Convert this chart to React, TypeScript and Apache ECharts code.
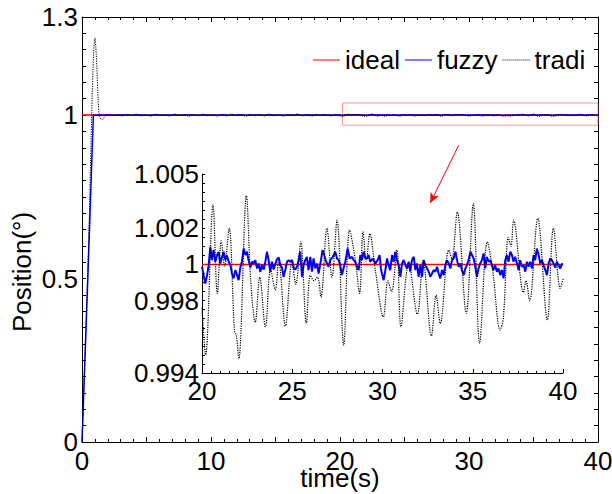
import React, { useEffect, useRef } from "react";
import * as echarts from "echarts";

const FONT = "'Liberation Sans', Arial, Helvetica, sans-serif";

// ---- text / tick labels ----
const seriesNames = ["ideal", "fuzzy", "tradi"];
const mainXTickLabels = [0, 10, 20, 30, 40];
const mainYTickLabels = [0, 0.5, 1, 1.3];
const insetXTickLabels = [20, 25, 30, 35, 40];
const insetYTickLabels = [0.994, 0.998, 1, 1.002, 1.005];
const xTitle = "time(s)";
const yTitle = "Position(°)";

// ---- data ----
const idealLevel = 1;
// fuzzy controller: rise (t, value)
const fuzzyRise: [number, number][] = [
  [0, 0],
  [0.45, 0.5],
  [0.88, 0.9995],
];
// fuzzy 1..20 s : (t, deviation from 1 in 0.001)
const fuzzyMidDev: [number, number][] = [
  [1.0, 0.4], [1.4, -0.3], [1.9, 0.5], [2.5, -0.4], [3.1, 0.2], [3.8, -0.6], [4.4, 0.3], [5.1, -0.2],
  [5.7, 0.6], [6.4, -0.5], [7.0, 0.1], [7.7, -0.4], [8.3, 0.5], [9.0, -0.3], [9.6, 0.2], [10.3, -0.6],
  [10.9, 0.4], [11.6, -0.2], [12.2, 0.6], [12.9, -0.5], [13.5, 0.3], [14.2, -0.3], [14.8, 0.5], [15.5, -0.4],
  [16.1, 0.2], [16.8, -0.6], [17.4, 0.4], [18.1, -0.2], [18.7, 0.5], [19.4, -0.4],
];
// fuzzy 20..40 s : (t, deviation from 1 in 0.001)
const fuzzyZoomDev: [number, number][] = [
  [20.0, -0.13], [20.09, -0.6], [20.18, -1.05], [20.28, -0.6], [20.37, -0.04], [20.46, 0.98], [20.55, 0.24],
  [20.64, 0.8], [20.74, 0.15], [20.83, 0.5], [20.92, 0.7], [21.01, 0.05], [21.11, 0.42], [21.2, 0.7],
  [21.29, 0.24], [21.38, 0.5], [21.48, 0.15], [21.57, -0.04], [21.66, -0.5], [21.75, -0.77], [21.85, -0.31],
  [21.94, -0.59], [22.03, -0.87], [22.12, -0.17], [22.21, 0.15], [22.31, 0.88], [22.4, 0.52], [22.49, 0.7],
  [22.58, 0.24], [22.68, -0.17], [22.77, 0.15], [22.86, 0.05], [22.95, 0.24], [23.05, -0.22], [23.14, 0.05],
  [23.23, -0.4], [23.32, -0.04], [23.42, -0.28], [23.51, 0.15], [23.6, 0.7], [23.69, 0.24], [23.78, -0.4],
  [23.88, 0.15], [23.97, -0.28], [24.06, 0.02], [24.15, 0.28], [24.25, 0.39], [24.34, -0.04], [24.43, -0.17],
  [24.52, -0.68], [24.62, -0.28], [24.71, 0.15], [24.8, 0.24], [24.89, 0.15], [24.99, 0.24], [25.08, -0.17],
  [25.17, -0.28], [25.26, -0.13], [25.35, 0.24], [25.44, 0.7], [25.54, -0.68], [25.63, -0.04], [25.72, 0.24],
  [25.81, 0.42], [25.9, -0.31], [26.0, 0.42], [26.09, -0.4], [26.18, 0.33], [26.27, -0.22], [26.37, 0.05],
  [26.46, -0.5], [26.59, 0.24], [26.68, 0.8], [26.77, 0.52], [26.88, 0.15], [27.01, -0.13], [27.11, 0.24],
  [27.25, 0.42], [27.38, 0.7], [27.48, 0.33], [27.57, 0.24], [27.66, -0.04], [27.75, -0.59], [27.84, -0.22],
  [27.94, 0.15], [28.07, 0.88], [28.18, 0.33], [28.31, 0.42], [28.4, 0.24], [28.49, 0.15], [28.58, -0.13],
  [28.68, -0.31], [28.77, 0.52], [28.86, 0.24], [28.95, 0.7], [29.05, 0.33], [29.14, 0.33], [29.23, 0.52],
  [29.32, 0.15], [29.47, 0.33], [29.6, 0.05], [29.73, 0.24], [29.84, 0.52], [29.91, -0.22], [29.97, -0.5],
  [30.06, -0.87], [30.16, -0.31], [30.25, 0.33], [30.34, -0.04], [30.43, -0.31], [30.53, 0.52], [30.62, 0.15],
  [30.71, 0.7], [30.8, 0.24], [30.9, -0.04], [30.99, -0.68], [31.08, 0.05], [31.17, 0.24], [31.27, -0.04],
  [31.36, -0.22], [31.45, 0.15], [31.54, -0.4], [31.63, 0.24], [31.73, 0.42], [31.82, -0.31], [31.91, 0.05],
  [32.0, -0.68], [32.1, -0.04], [32.19, -0.68], [32.28, 0.24], [32.37, -0.04], [32.47, -0.22], [32.56, -0.4],
  [32.65, -0.68], [32.74, -0.5], [32.83, -0.31], [32.93, -0.4], [33.02, -0.13], [33.11, -0.5], [33.2, -0.77],
  [33.3, -0.31], [33.39, -0.59], [33.48, -0.04], [33.57, 0.24], [33.67, 0.05], [33.76, -0.22], [33.85, 0.24],
  [33.94, 0.33], [34.04, 0.7], [34.13, 0.24], [34.22, -0.13], [34.31, 0.05], [34.4, -0.31], [34.5, -0.59],
  [34.59, -0.22], [34.68, -0.04], [34.77, 0.24], [34.87, 0.7], [34.96, 0.52], [35.05, 0.33], [35.14, -0.13],
  [35.23, -0.68], [35.32, -0.22], [35.41, 0.05], [35.51, 0.24], [35.6, 0.61], [35.69, -0.22], [35.78, 0.42],
  [35.88, 0.15], [35.97, 0.24], [36.06, -0.04], [36.15, -0.31], [36.24, -0.04], [36.34, -0.4], [36.43, -0.22],
  [36.52, -0.59], [36.61, -0.31], [36.71, -0.77], [36.8, 0.24], [36.89, 0.52], [36.98, 0.15], [37.08, 0.7],
  [37.17, 0.52], [37.26, 0.15], [37.35, 0.42], [37.45, 0.05], [37.54, -0.31], [37.63, 0.24], [37.72, -0.13],
  [37.82, -0.04], [37.91, -0.4], [38.0, 0.15], [38.09, -0.13], [38.18, 0.15], [38.28, -0.22], [38.37, 0.52],
  [38.46, 0.24], [38.55, 0.88], [38.65, 0.52], [38.74, 0.05], [38.83, 0.24], [38.92, -0.04], [39.02, -0.31],
  [39.11, -0.59], [39.2, 0.05], [39.29, 0.33], [39.38, 0.24], [39.48, 0.05], [39.57, -0.17], [39.66, 0.15],
  [39.75, -0.04], [39.85, -0.22], [39.94, 0.02], [40.0, 0.05],
];
// traditional controller: rise and overshoot (t, value)
const tradiRise: [number, number][] = [
  [0, 0], [0.5, 0.59], [0.75, 1.0], [0.9, 1.19], [1.0, 1.236], [1.1, 1.19], [1.25, 1.05], [1.35, 1.0],
  [1.55, 0.985], [1.8, 0.997],
];
// tradi 2..20 s : (t, deviation from 1 in 0.001)
const tradiMidDev: [number, number][] = [
  [2.1, 2.5], [2.4, -2.0], [2.8, 1.5], [3.1, -3.0], [3.5, 2.2], [3.9, -1.2], [4.2, 3.0], [4.6, -2.5],
  [5.0, 1.0], [5.3, -3.5], [5.7, 2.8], [6.1, -1.8], [6.4, 1.6], [6.8, -2.9], [7.2, 3.3], [7.5, -1.0],
  [7.9, 2.0], [8.3, -3.8], [8.6, 1.4], [9.0, -2.2], [9.4, 2.9], [9.7, -1.5], [10.1, 1.1], [10.5, -3.2],
  [10.8, 2.4], [11.2, -2.6], [11.6, 3.5], [11.9, -1.3], [12.3, 1.8], [12.7, -4.0], [13.0, 2.6], [13.4, -1.9],
  [13.8, 1.2], [14.1, -2.8], [14.5, 3.1], [14.9, -2.1], [15.2, 1.7], [15.6, -3.4], [16.0, 2.3], [16.3, -1.4],
  [16.7, 3.6], [17.1, -2.7], [17.4, 1.3], [17.8, -3.1], [18.2, 2.7], [18.5, -1.6], [18.9, 2.0], [19.3, -3.3],
  [19.6, 1.5],
];
// tradi 20..40 s : (t, deviation from 1 in 0.001)
const tradiZoomDev: [number, number][] = [
  [20.0, -2.4], [20.2, -5.0], [20.61, 3.3], [20.85, -1.6], [21.07, 1.3], [21.25, -0.1], [21.5, 2.0],
  [21.8, -3.7], [21.9, -3.9], [22.04, -5.2], [22.46, 3.8], [22.7, -0.9], [22.95, -3.2], [23.2, -0.7],
  [23.51, -3.45], [23.8, -0.3], [24.06, -1.4], [24.25, 0.2], [24.62, -3.4], [24.98, 0.1], [25.2, -1.1],
  [25.47, 1.25], [25.78, -3.26], [26.0, -0.6], [26.2, -0.9], [26.4, -0.7], [26.59, -1.8], [26.92, 2.0],
  [27.2, -0.7], [27.48, 2.45], [27.85, -4.46], [28.18, 1.9], [28.5, 0.2], [28.73, -1.6], [28.92, 1.8],
  [29.1, 0.2], [29.3, 1.7], [29.6, -0.3], [30.05, -2.9], [30.3, -0.9], [30.5, -1.5], [30.8, 0.8],
  [31.02, -3.44], [31.45, 0.05], [31.93, -2.75], [32.25, 0.2], [32.71, -3.95], [32.97, -1.7], [33.2, -3.26],
  [33.67, 0.8], [33.85, 0.3], [34.14, 2.9], [34.64, -2.7], [35.03, 3.37], [35.38, -4.36], [35.81, 1.25],
  [36.1, -0.3], [36.52, -3.63], [36.7, -2.9], [36.97, 1.5], [37.12, 1.0], [37.26, 2.45], [37.81, -1.55],
  [37.95, -0.9], [38.15, -2.0], [38.6, 2.55], [39.13, -3.07], [39.47, 2.0], [39.85, -1.33], [40.0, -0.8],
];
// zoomed region marker and arrow (data coordinates of main axes)
const zoomBox = { x0: 20.2, x1: 40, y0: 0.969, y1: 1.037 };
const arrowFrom: [number, number] = [29.2, 0.908];
const arrowTo: [number, number] = [27.0, 0.731];

const fromDev = (d: [number, number][]) => d.map(([t, m]) => [t, idealLevel + m / 1000]);
const near = (v: number, list: number[]) => list.some((l) => Math.abs(v - l) < 1e-7);

const RED = "#ff0000";
const BLUE = "#0000ff";
const BLACK = "#000000";

// legend icons: a solid bar and a dotted bar (drawn at 27 x 1.5)
const SOLID_ICON = "path://M0,0h27v1h-27z";
const DOTTED_ICON =
  "path://" +
  Array.from({ length: 14 }, (_, i) => `M${i * 2},0h1v1h-1z`).join("");

function buildOption() {
  const fuzzyMain = [...fuzzyRise, ...fromDev(fuzzyMidDev), ...fromDev(fuzzyZoomDev)];
  const tradiMain = [...tradiRise, ...fromDev(tradiMidDev), ...fromDev(tradiZoomDev)];
  const fuzzyInset = fromDev(fuzzyZoomDev);
  const tradiInset = fromDev(tradiZoomDev);

  const labelStyle = { color: BLACK, fontSize: 26, fontFamily: FONT };
  const axisLine = { show: true, onZero: false, lineStyle: { color: BLACK, width: 1 } };

  return {
    animation: false,
    backgroundColor: "#ffffff",
    textStyle: { fontFamily: FONT },
    grid: [
      { left: 82, top: 17, width: 516, height: 425, outerBoundsMode: "none" },
      { left: 202, top: 174, width: 361, height: 199, outerBoundsMode: "none" },
    ],
    legend: {
      data: [
        { name: seriesNames[0], icon: SOLID_ICON },
        { name: seriesNames[1], icon: SOLID_ICON },
        { name: seriesNames[2], icon: DOTTED_ICON },
      ],
      left: 313,
      top: 47,
      padding: 0,
      itemGap: 5,
      itemWidth: 27,
      itemHeight: 1.5,
      textStyle: { ...labelStyle },
      selectedMode: false,
    },
    xAxis: [
      {
        type: "value", gridIndex: 0, position: "bottom", min: 0, max: 40, interval: 5,
        axisLine,
        axisTick: { show: true, inside: true, length: 5, lineStyle: { color: BLACK } },
        minorTick: { show: true, splitNumber: 5, length: 3, lineStyle: { color: BLACK } },
        splitLine: { show: false },
        axisLabel: {
          ...labelStyle, margin: 6, interval: 0,
          formatter: (v: number) => (near(v, mainXTickLabels) ? String(Math.round(v)) : ""),
        },
        name: xTitle, nameLocation: "middle", nameGap: 23, nameMoveOverlap: false,
        nameTextStyle: { ...labelStyle },
      },
      {
        type: "value", gridIndex: 0, position: "top", min: 0, max: 40, interval: 5,
        axisLine,
        axisTick: { show: true, inside: true, length: 5, lineStyle: { color: BLACK } },
        minorTick: { show: true, splitNumber: 5, length: 3, lineStyle: { color: BLACK } },
        splitLine: { show: false },
        axisLabel: { show: false },
      },
      {
        type: "value", gridIndex: 1, position: "bottom", min: 20, max: 40, interval: 5,
        axisLine,
        axisTick: { show: true, inside: true, length: 4, lineStyle: { color: BLACK } },
        minorTick: { show: true, splitNumber: 10, length: 2, lineStyle: { color: BLACK } },
        splitLine: { show: false },
        axisLabel: {
          ...labelStyle, margin: 5, interval: 0,
          formatter: (v: number) => (near(v, insetXTickLabels) ? String(Math.round(v)) : ""),
        },
      },
    ],
    yAxis: [
      {
        type: "value", gridIndex: 0, position: "left", min: 0, max: 1.3, interval: 0.05,
        axisLine,
        axisTick: { show: true, inside: true, length: 4, lineStyle: { color: BLACK } },
        splitLine: { show: false },
        axisLabel: {
          ...labelStyle, margin: 4, interval: 0,
          formatter: (v: number) => {
            const hit = mainYTickLabels.find((l) => Math.abs(v - l) < 1e-7);
            return hit === undefined ? "" : String(hit);
          },
        },
      },
      {
        type: "value", gridIndex: 0, position: "right", min: 0, max: 1.3, interval: 0.05,
        axisLine,
        axisTick: { show: true, inside: true, length: 4, lineStyle: { color: BLACK } },
        splitLine: { show: false },
        axisLabel: { show: false },
      },
      {
        type: "value", gridIndex: 1, position: "left", min: 0.994, max: 1.005, interval: 0.0005,
        axisLine,
        axisTick: { show: true, inside: true, length: 3, lineStyle: { color: BLACK } },
        splitLine: { show: false },
        axisLabel: {
          ...labelStyle, margin: 3, interval: 0,
          formatter: (v: number) => {
            const hit = insetYTickLabels.find((l) => Math.abs(v - l) < 1e-7);
            return hit === undefined ? "" : String(hit);
          },
        },
      },
    ],
    series: [
      {
        name: "ideal", type: "line", xAxisIndex: 0, yAxisIndex: 0,
        data: [[0, idealLevel], [40, idealLevel]],
        symbol: "none",
        lineStyle: { color: RED, width: 1.5 }, itemStyle: { color: RED },
        markArea: {
          silent: true,
          itemStyle: { color: "rgba(0,0,0,0)", borderColor: "rgba(255,80,80,0.6)", borderWidth: 1 },
          label: { show: false },
          data: [[{ xAxis: zoomBox.x0, yAxis: zoomBox.y0 }, { xAxis: zoomBox.x1, yAxis: zoomBox.y1 }]],
        },
        markLine: {
          silent: true,
          symbol: ["none", "arrow"],
          symbolSize: [7, 10],
          label: { show: false },
          lineStyle: { color: RED, width: 1, type: "solid" },
          data: [[{ coord: arrowFrom }, { coord: arrowTo }]],
        },
      },
      {
        name: "fuzzy", type: "line", xAxisIndex: 0, yAxisIndex: 0, data: fuzzyMain,
        symbol: "none",
        lineStyle: { color: BLUE, width: 1.5 }, itemStyle: { color: BLUE },
      },
      {
        name: "tradi", type: "line", xAxisIndex: 0, yAxisIndex: 0, data: tradiMain,
        symbol: "none", smooth: 0.3,
        lineStyle: { color: BLACK, width: 1, type: [1.2, 1.2] }, itemStyle: { color: BLACK },
      },
      {
        name: "ideal", type: "line", xAxisIndex: 2, yAxisIndex: 2,
        data: [[20, idealLevel], [40, idealLevel]],
        symbol: "none", lineStyle: { color: RED, width: 1.5 }, itemStyle: { color: RED },
      },
      {
        name: "fuzzy", type: "line", xAxisIndex: 2, yAxisIndex: 2, data: fuzzyInset,
        symbol: "none", lineStyle: { color: BLUE, width: 2 }, itemStyle: { color: BLUE },
      },
      {
        name: "tradi", type: "line", xAxisIndex: 2, yAxisIndex: 2, data: tradiInset,
        symbol: "none", smooth: 0.35,
        lineStyle: { color: BLACK, width: 1.2, type: [1.2, 1.2] }, itemStyle: { color: BLACK },
      },
    ],
    graphic: [
      {
        type: "text", x: 22, y: 272, rotation: Math.PI / 2,
        style: {
          text: yTitle, fill: BLACK, fontSize: 26, fontFamily: FONT,
          align: "center", verticalAlign: "middle",
        },
      },
    ],
  };
}

export default function App() {
  const ref = useRef<HTMLDivElement>(null);
  useEffect(() => {
    document.body.style.margin = "0";
    if (!ref.current) return;
    const chart = echarts.init(ref.current, undefined, { renderer: "svg" });
    chart.setOption(buildOption() as any);
    return () => chart.dispose();
  }, []);
  return <div ref={ref} style={{ width: 612, height: 494, background: "#fff" }} />;
}
